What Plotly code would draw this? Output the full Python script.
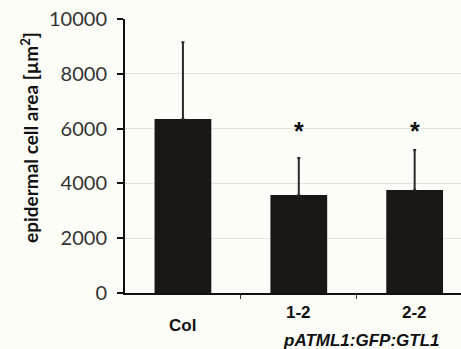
import plotly.graph_objects as go

categories = ["Col", "1-2", "2-2"]
means = [6350, 3580, 3760]
errors_up = [2800, 1350, 1460]
significance = ["", "*", "*"]
star_level = 6060
y_ticks = [0, 2000, 4000, 6000, 8000, 10000]
y_tick_labels = ["0", "2000", "4000", "6000", "8000", "10000"]
group_label = "pATML1:GFP:GTL1"
y_title = "epidermal cell area [µm<sup>2</sup>]"

xpos = list(range(len(categories)))

fig = go.Figure()
fig.add_trace(go.Bar(
    x=xpos, y=means, width=0.49,
    marker=dict(color="#1a1816", line=dict(width=0)),
    error_y=dict(type="data", array=errors_up, arrayminus=[0]*len(means),
                 symmetric=False, color="#2a2a2a", thickness=2, width=1.5),
    showlegend=False,
))

bg = "#fdfdf8"
fig.update_layout(
    template="none",
    width=461, height=349,
    margin=dict(l=125, r=0, t=19, b=56, autoexpand=False),
    paper_bgcolor=bg, plot_bgcolor=bg,
    font=dict(family="Lato", color="#333333"),
    xaxis=dict(range=[-0.5, 2.4], tickvals=[0.5, 1.5], ticktext=["", ""],
               ticks="outside", ticklen=4, tickcolor="#333", tickwidth=1,
               showline=True, linecolor="#111", linewidth=2, automargin=False,
               showgrid=False, zeroline=False, fixedrange=True),
    yaxis=dict(range=[0, 10000], tickvals=y_ticks, ticktext=y_tick_labels,
               ticks="outside", ticklen=6, tickcolor="#111", tickwidth=2,
               ticklabelstandoff=6,
               showline=True, linecolor="#111", linewidth=2, automargin=False,
               showgrid=True, gridcolor="#e4e4de", gridwidth=1,
               zeroline=False, tickfont=dict(family="Lato", size=20, color="#333333")),
)

ann = []
# y title
ann.append(dict(xref="paper", yref="paper", x=-0.286, y=0.569, text=y_title,
                textangle=-90, showarrow=False, xanchor="center", yanchor="middle",
                font=dict(family="Lato", size=19, color="#111111", weight="bold")))
# category labels
label_y = {"Col": -0.12, "1-2": -0.072, "2-2": -0.072}
for i, c in enumerate(categories):
    ann.append(dict(xref="x", yref="paper", x=i, y=label_y[c], text="<b>%s</b>" % c,
                    showarrow=False, xanchor="center", yanchor="middle",
                    font=dict(family="Liberation Sans", size=17, color="#111111")))
ann.append(dict(xref="x", yref="paper", x=1.545, y=-0.172, text="<b><i>%s</i></b>" % group_label,
                showarrow=False, xanchor="center", yanchor="middle",
                font=dict(family="Liberation Sans", size=17, color="#111111")))
# significance stars
for i, s in enumerate(significance):
    if s:
        ann.append(dict(xref="x", yref="y", x=i, y=star_level, text="<b>%s</b>" % s,
                        showarrow=False, xanchor="center", yanchor="middle", yshift=-4,
                        font=dict(family="Liberation Sans", size=25, color="#111111")))
fig.update_layout(annotations=ann)

fig.write_html("out.html", config={"displayModeBar": False},
               post_script="document.body.style.margin='0';document.body.style.background='%s';" % bg)
